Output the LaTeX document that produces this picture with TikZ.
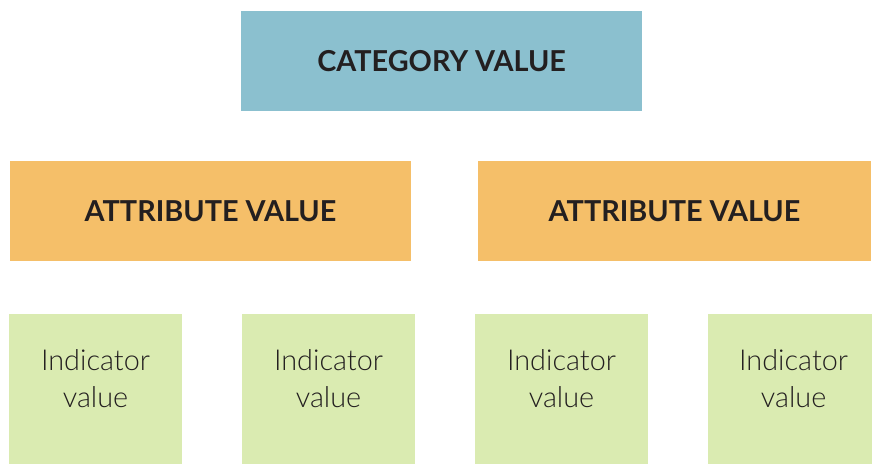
\documentclass[tikz,border=0pt]{standalone}
\usepackage{fontspec}
\setmainfont{Lato}
\newfontfamily\lightfont{Lato Light}
\definecolor{catblue}{HTML}{8BC0CF}
\definecolor{attrorange}{HTML}{F5BF69}
\definecolor{indgreen}{HTML}{DAEBB1}
\definecolor{inktext}{HTML}{231F20}
\tikzset{
  catbox/.style={fill=catblue,minimum width=10.025cm,minimum height=2.5cm,inner sep=0pt,
    font=\fontsize{20.5}{24}\selectfont\bfseries,text=inktext},
  attrbox/.style={fill=attrorange,minimum height=2.5cm,inner sep=0pt,
    font=\fontsize{20.5}{24}\selectfont\bfseries,text=inktext},
  indbox/.style={fill=indgreen,minimum height=3.75cm,inner sep=0pt},
  indtext/.style={align=center,font=\lightfont\fontsize{20.5}{26.3}\selectfont,text=inktext}
}
\begin{document}
\begin{tikzpicture}
\useasboundingbox(0,0)rectangle(21.8,-11.6);
% top level
\node[catbox](cat)at(11.04,-1.525){CATEGORY VALUE};
% second level
\node[attrbox,minimum width=10.025cm](attrL)at(5.2625,-5.275){ATTRIBUTE VALUE};
\node[attrbox,minimum width=9.825cm](attrR)at(16.8625,-5.275){ATTRIBUTE VALUE};
% bottom level, last box is cut a bit narrower
\foreach \i/\x/\w/\dx in {1/2.3875/4.325/0,2/8.2125/4.325/0,3/14.0375/4.325/0,4/19.75/4.1/.09}{
  \node[indbox,minimum width=\w cm](ind\i)at(\x,-9.725){};
  \node[indtext](ind\i-txt)at([xshift=\dx cm,yshift=.25cm]ind\i.center){Indicator\\value};
}
\end{tikzpicture}
\end{document}
